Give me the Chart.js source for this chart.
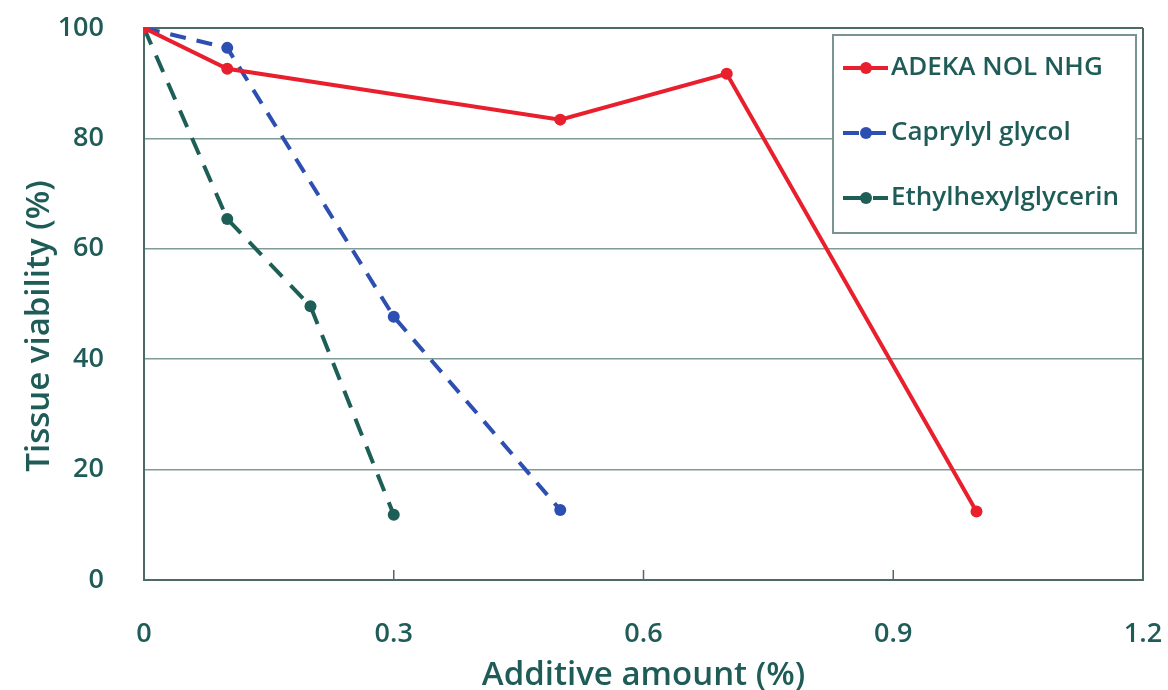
<!DOCTYPE html>
<html>
<head>
<meta charset="utf-8">
<script src="https://cdn.jsdelivr.net/npm/chart.js@4/dist/chart.umd.min.js"></script>
<style>
  html, body { margin: 0; padding: 0; background: #fff; }
  #wrap { width: 1168px; height: 690px; position: relative; }
</style>
</head>
<body>
<div id="wrap"><canvas id="viabilityChart"></canvas></div>
<script>
// data
const seriesNames = ['ADEKA NOL NHG', 'Caprylyl glycol', 'Ethylhexylglycerin'];
const adekaX = [0, 0.1, 0.5, 0.7, 1.0];
const adekaY = [100, 92.6, 83.4, 91.7, 12.4];
const caprylylX = [0, 0.1, 0.3, 0.5];
const caprylylY = [100, 96.4, 47.7, 12.7];
const ethylX = [0, 0.1, 0.2, 0.3];
const ethylY = [100, 65.4, 49.6, 11.8];
const xTicks = [0, 0.3, 0.6, 0.9, 1.2];
const yTicks = [0, 20, 40, 60, 80, 100];

const textColor = '#1f5c58';
const fontName = "'Open Sans', 'Noto Sans', sans-serif";
const fontWeight = '600';

function toPoints(xs, ys) {
    return xs.map((x, i) => ({ x: x, y: ys[i] }));
}

// legend box inside the plot, top right
const boxLegend = {
    id: 'boxLegend',
    afterDatasetsDraw(chart) {
        const ctx = chart.ctx;
        const left = 833, top = 35, w = 303, h = 198;
        ctx.save();
        ctx.fillStyle = '#fff';
        ctx.fillRect(left, top, w, h);
        ctx.strokeStyle = '#7a9591';
        ctx.lineWidth = 2;
        ctx.strokeRect(left, top, w, h);
        const rows = [68, 133, 198];
        chart.data.datasets.forEach((ds, i) => {
            const y = rows[i];
            ctx.strokeStyle = ds.borderColor;
            ctx.lineWidth = 4;
            ctx.setLineDash(ds.borderDash || []);
            ctx.beginPath();
            ctx.moveTo(843, y);
            ctx.lineTo(888, y);
            ctx.stroke();
            ctx.setLineDash([]);
            ctx.fillStyle = ds.borderColor;
            ctx.beginPath();
            ctx.arc(866, y, 6, 0, Math.PI * 2);
            ctx.fill();
            ctx.fillStyle = textColor;
            ctx.font = fontWeight + ' 26px ' + fontName;
            ctx.textBaseline = 'middle';
            ctx.fillText(ds.label, 891, y);
        });
        ctx.restore();
    }
};

// right border, small inward x tick marks, y axis title
const frame = {
    id: 'frame',
    afterDraw(chart) {
        const a = chart.chartArea;
        const c = chart.ctx;
        const xs = chart.scales.x;
        c.save();
        c.strokeStyle = '#4d6a66';
        c.lineWidth = 2;
        c.beginPath();
        c.moveTo(a.right, a.top);
        c.lineTo(a.right, a.bottom);
        c.stroke();
        c.lineWidth = 1.5;
        xTicks.slice(1, -1).forEach(v => {
            const px = xs.getPixelForValue(v);
            c.beginPath();
            c.moveTo(px, a.bottom);
            c.lineTo(px, a.bottom - 10);
            c.stroke();
        });
        c.translate(40, 326);
        c.rotate(-Math.PI / 2);
        c.fillStyle = textColor;
        c.font = fontWeight + ' 33px ' + fontName;
        c.textAlign = 'center';
        c.textBaseline = 'middle';
        c.fillText('Tissue viability (%)', 0, 0);
        c.restore();
    }
};

const ctx = document.getElementById('viabilityChart').getContext('2d');
new Chart(ctx, {
    type: 'line',
    data: {
        datasets: [{
            label: seriesNames[0],
            data: toPoints(adekaX, adekaY),
            borderColor: '#e8202e',
            backgroundColor: '#e8202e',
            borderWidth: 4,
            pointRadius: 6,
            pointBorderWidth: 0
        }, {
            label: seriesNames[1],
            data: toPoints(caprylylX, caprylylY),
            borderColor: '#2d4fb2',
            backgroundColor: '#2d4fb2',
            borderWidth: 4,
            borderDash: [16, 11],
            pointRadius: 6,
            pointBorderWidth: 0
        }, {
            label: seriesNames[2],
            data: toPoints(ethylX, ethylY),
            borderColor: '#1d5f57',
            backgroundColor: '#1d5f57',
            borderWidth: 4,
            borderDash: [18, 12],
            pointRadius: 6,
            pointBorderWidth: 0
        }]
    },
    options: {
        responsive: true,
        maintainAspectRatio: false,
        animation: false,
        layout: { padding: { left: 0, right: 25, top: 28, bottom: 0 } },
        scales: {
            x: {
                type: 'linear',
                min: 0,
                max: 1.2,
                afterBuildTicks: (axis) => { axis.ticks = xTicks.map(v => ({ value: v })); },
                afterFit: (axis) => {
                    axis.height = 110;
                    axis.paddingLeft = 0;
                    axis.paddingRight = 0;
                },
                ticks: {
                    color: textColor,
                    padding: 30,
                    font: { family: fontName, size: 27, weight: fontWeight },
                    callback: (v) => String(Math.round(v * 10) / 10)
                },
                grid: { display: false },
                border: { color: '#4d6a66', width: 2 },
                title: {
                    display: true,
                    text: 'Additive amount (%)',
                    color: textColor,
                    font: { family: fontName, size: 33, weight: fontWeight },
                    padding: { top: 0, bottom: -5 }
                }
            },
            y: {
                min: 0,
                max: 100,
                afterBuildTicks: (axis) => { axis.ticks = yTicks.map(v => ({ value: v })); },
                afterFit: (axis) => {
                    axis.width = 144;
                    axis.paddingTop = 0;
                    axis.paddingBottom = 0;
                },
                ticks: {
                    color: textColor,
                    padding: 40,
                    font: { family: fontName, size: 27, weight: fontWeight }
                },
                grid: {
                    color: (c) => (c.tick && c.tick.value === 100) ? '#4d6a66' : '#7f9b97',
                    lineWidth: (c) => (c.tick && c.tick.value === 100) ? 2 : 1.5,
                    drawTicks: false
                },
                border: { color: '#4d6a66', width: 2 }
            }
        },
        plugins: {
            legend: { display: false },
            tooltip: { enabled: false }
        }
    },
    plugins: [boxLegend, frame]
});
</script>
</body>
</html>
